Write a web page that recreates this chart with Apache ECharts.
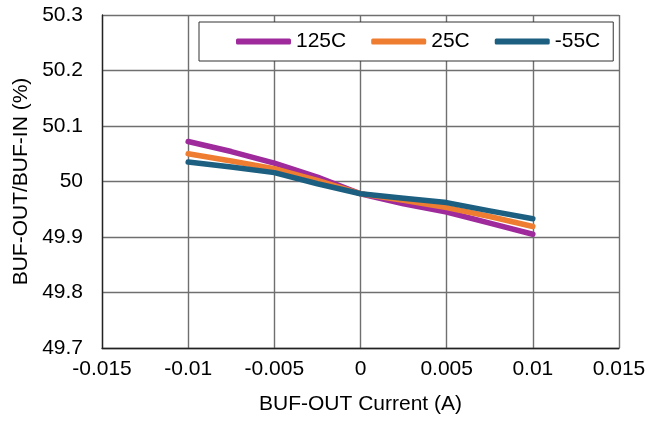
<!DOCTYPE html>
<html>
<head>
<meta charset="utf-8">
<script src="https://cdn.jsdelivr.net/npm/echarts@6/dist/echarts.min.js"></script>
<style>html,body{margin:0;padding:0;background:#fff}#c{width:664px;height:421px}</style>
</head>
<body>
<div id="c"></div>
<script>
const xValues = [-0.01, -0.0075, -0.005, -0.0025, 0, 0.0025, 0.005, 0.0075, 0.01];
const s125 = [50.072, 50.054, 50.033, 50.008, 49.978, 49.960, 49.945, 49.925, 49.905];
const s25  = [50.050, 50.037, 50.023, 50.002, 49.978, 49.966, 49.953, 49.937, 49.919];
const sM55 = [50.035, 50.026, 50.016, 49.996, 49.978, 49.970, 49.962, 49.947, 49.933];
const seriesNames = ['125C', '25C', '-55C'];
const colors = ['#9E2A9B', '#EE7D31', '#1D5F80'];

const font = 'Liberation Sans, Arial, sans-serif';
const pair = arr => xValues.map((x, i) => [x, arr[i]]);
const chart = echarts.init(document.getElementById('c'), null, {renderer: 'canvas'});
chart.setOption({
  animation: false,
  grid: {left: 102, right: 45, top: 15, bottom: 73},
  xAxis: {
    type: 'value', min: -0.015, max: 0.015, interval: 0.005,
    name: 'BUF-OUT Current (A)', nameLocation: 'middle', nameGap: 46,
    nameTextStyle: {fontFamily: font, fontSize: 21, color: '#000'},
    axisLine: {show: true, onZero: false, lineStyle: {color: '#222', width: 1.3}},
    axisTick: {show: false},
    axisLabel: {fontFamily: font, fontSize: 21, color: '#000', margin: 11,
      formatter: v => String(Math.round(v * 1000) / 1000)},
    splitLine: {show: true, lineStyle: {color: '#6f6f6f', width: 1.4}}
  },
  yAxis: {
    type: 'value', min: 49.7, max: 50.3, interval: 0.1,
    name: 'BUF-OUT/BUF-IN (%)', nameLocation: 'middle', nameGap: 67,
    nameTextStyle: {fontFamily: font, fontSize: 21, color: '#000'},
    axisLine: {show: true, onZero: false, lineStyle: {color: '#222', width: 1.3}},
    axisTick: {show: false},
    axisLabel: {fontFamily: font, fontSize: 21, color: '#000', margin: 19,
      formatter: v => String(Math.round(v * 10) / 10)},
    splitLine: {show: true, lineStyle: {color: '#6f6f6f', width: 1.4}}
  },
  legend: {
    left: 199, top: 22, width: 414,
    padding: [9, 13, 9, 37],
    borderColor: '#333', borderWidth: 1, backgroundColor: '#fff',
    itemWidth: 55, itemHeight: 6, itemGap: 25,
    icon: 'roundRect',
    textStyle: {fontFamily: font, fontSize: 21, color: '#000'},
    data: seriesNames
  },
  series: [s125, s25, sM55].map((arr, i) => ({
    name: seriesNames[i], type: 'line', data: pair(arr),
    showSymbol: false, symbol: 'none',
    lineStyle: {color: colors[i], width: 5.5, cap: 'round', join: 'round'},
    itemStyle: {color: colors[i]}
  }))
});
</script>
</body>
</html>
